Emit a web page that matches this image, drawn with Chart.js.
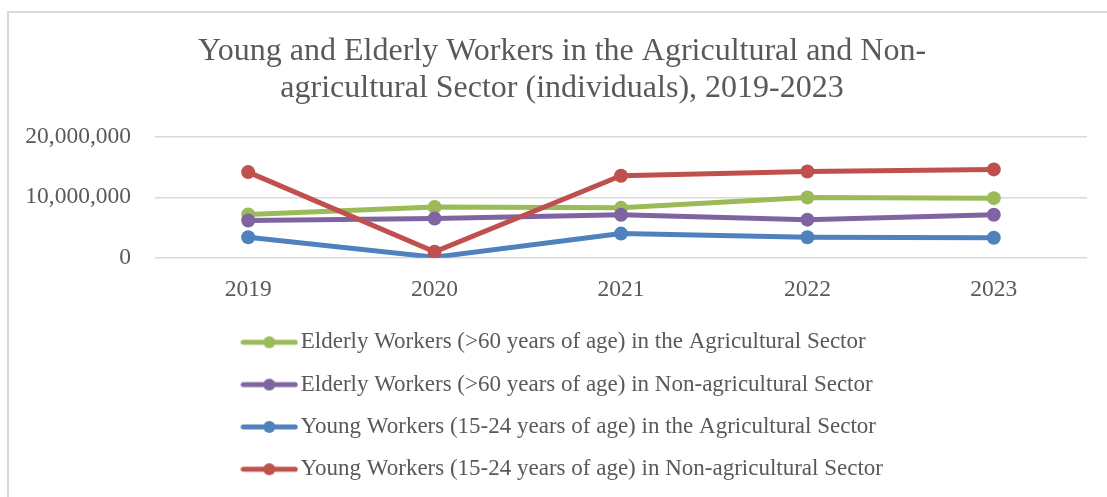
<!DOCTYPE html>
<html>
<head>
<meta charset="utf-8">
<script src="https://cdn.jsdelivr.net/npm/chart.js@4/dist/chart.umd.min.js"></script>
<style>
  html, body { margin: 0; padding: 0; background: #fff; overflow: hidden; }
  #frame { position: absolute; left: 7px; top: 11px; width: 1300px; height: 700px; border: 2px solid #d9d9d9; }
  #chart { position: absolute; left: 0; top: 0; }
</style>
</head>
<body>
<div id="frame"></div>
<canvas id="chart" width="1107" height="497"></canvas>
<script>
// Chart data
const years = ["2019", "2020", "2021", "2022", "2023"];
const elderlyAgri = [7150000, 8400000, 8250000, 9950000, 9850000];
const elderlyNonAgri = [6150000, 6500000, 7100000, 6300000, 7100000];
const youngAgri = [3400000, 100000, 4000000, 3400000, 3300000];
const youngNonAgri = [14150000, 1000000, 13550000, 14250000, 14600000];
const yTicks = [0, 10000000, 20000000];

const seriesNames = [
  "Elderly Workers (>60 years of age) in the Agricultural Sector",
  "Elderly Workers (>60 years of age) in Non-agricultural Sector",
  "Young Workers (15-24 years of age) in the Agricultural Sector",
  "Young Workers (15-24 years of age) in Non-agricultural Sector"
];
const colors = ["#9BBB59", "#8064A2", "#4F81BD", "#C0504D"];

const textColor = "#595959";
const serif = "'Liberation Serif', 'DejaVu Serif', serif";

// legend marker: short line with a dot in the middle
function legendMarker(color) {
  const c = document.createElement("canvas");
  c.width = 58;
  c.height = 14;
  const g = c.getContext("2d");
  g.strokeStyle = color;
  g.lineWidth = 5;
  g.lineCap = "round";
  g.beginPath();
  g.moveTo(3, 7);
  g.lineTo(55, 7);
  g.stroke();
  g.fillStyle = color;
  g.beginPath();
  g.arc(29, 7, 6, 0, Math.PI * 2);
  g.fill();
  return c;
}
const markers = colors.map(legendMarker);

// move legend block and title to where they sit in the original
const blockShift = {
  id: "blockShift",
  afterLayout(chart) {
    chart.legend.left = 230;
    chart.legend.top = 311.5;
    chart.titleBlock.left = 37;
  }
};

function makeDataset(i, values, order) {
  return {
    label: seriesNames[i],
    data: values,
    borderColor: colors[i],
    backgroundColor: colors[i],
    pointBackgroundColor: colors[i],
    pointBorderColor: colors[i],
    borderWidth: 5,
    pointRadius: 7,
    pointHoverRadius: 7,
    pointBorderWidth: 0,
    tension: 0,
    order: order
  };
}

const ctx = document.getElementById("chart").getContext("2d");
new Chart(ctx, {
  type: "line",
  data: {
    labels: years,
    datasets: [
      makeDataset(0, elderlyAgri, 4),
      makeDataset(1, elderlyNonAgri, 3),
      makeDataset(2, youngAgri, 2),
      makeDataset(3, youngNonAgri, 1)
    ]
  },
  plugins: [blockShift],
  options: {
    responsive: false,
    animation: false,
    layout: { padding: { left: 0, right: 20, top: 0, bottom: 0 } },
    plugins: {
      title: {
        display: true,
        text: ["Young and Elderly Workers in the Agricultural and Non-", "agricultural Sector (individuals), 2019-2023"],
        color: textColor,
        font: { family: serif, size: 32, weight: "normal", lineHeight: 37 / 32 },
        padding: { top: 33, bottom: 29.7 }
      },
      legend: {
        position: "bottom",
        align: "start",
        labels: {
          color: textColor,
          font: { family: serif, size: 23 },
          usePointStyle: true,
          pointStyleWidth: 40,
          padding: 19.3,
          generateLabels(chart) {
            const items = Chart.defaults.plugins.legend.labels.generateLabels(chart);
            items.forEach(it => { it.pointStyle = markers[it.datasetIndex]; });
            return items;
          },
          sort: (a, b) => a.datasetIndex - b.datasetIndex
        }
      },
      tooltip: { enabled: false }
    },
    scales: {
      x: {
        offset: true,
        grid: { display: false, drawTicks: false },
        border: { display: false },
        ticks: { color: textColor, font: { family: serif, size: 23.5 }, padding: 18 },
        afterFit(scale) { scale.height = 60; }
      },
      y: {
        min: 0,
        max: 20000000,
        afterBuildTicks(scale) { scale.ticks = yTicks.map(v => ({ value: v })); },
        grid: { color: "#d9d9d9", lineWidth: 1.5, drawTicks: false },
        border: { display: false },
        ticks: {
          color: textColor,
          font: { family: serif, size: 23.5 },
          padding: 24,
          callback: v => v.toLocaleString("en-US")
        },
        afterFit(scale) { scale.width = 155; }
      }
    }
  }
});
</script>
</body>
</html>
